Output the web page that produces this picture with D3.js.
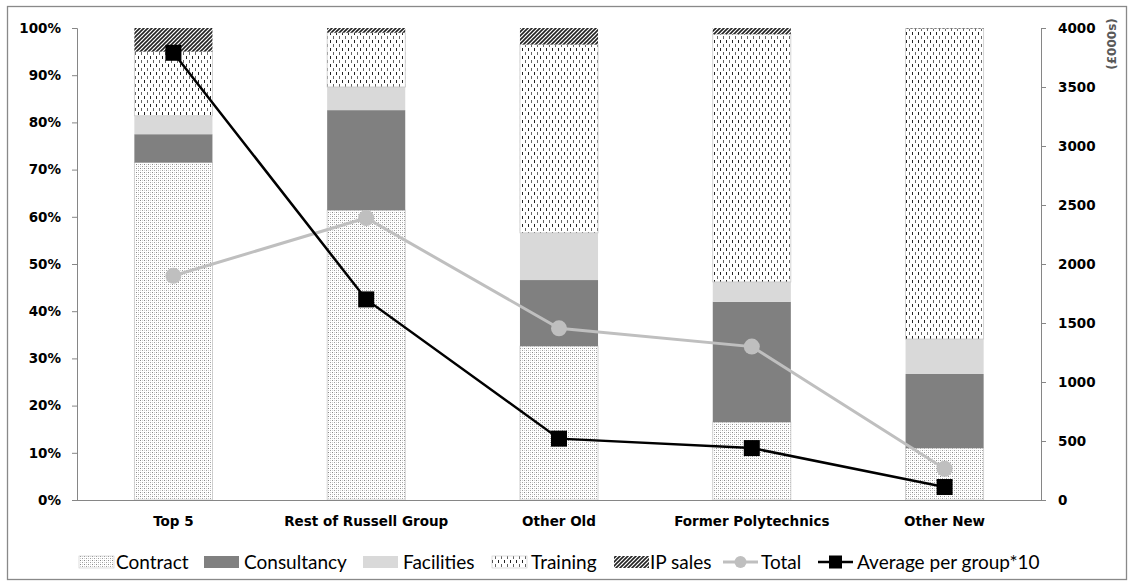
<!DOCTYPE html>
<html><head><meta charset="utf-8">
<script src="https://cdn.jsdelivr.net/npm/d3@7"></script>
<style>body{margin:0;background:#fff}svg{display:block}</style>
</head><body>
<svg id="c" width="1132" height="587"></svg>
<script>
const categories = ["Top 5","Rest of Russell Group","Other Old","Former Polytechnics","Other New"];
const contract    = [71.5, 61.4, 32.6, 16.5, 11.0];
const consultancy = [6.0, 21.2, 14.0, 25.5, 15.7];
const facilities  = [3.9, 4.9, 10.0, 4.2, 7.4];
const training    = [13.6, 11.5, 39.9, 52.5, 65.8];
const ipSales     = [5.0, 1.0, 3.5, 1.3, 0.1];
const total       = [1900, 2390, 1455, 1300, 265];
const avgPerGroup = [3790, 1700, 520, 440, 110];
const leftTicks = [0,10,20,30,40,50,60,70,80,90,100];
const rightTicks = [0,500,1000,1500,2000,2500,3000,3500,4000];

const svg = d3.select("#c");
const defs = svg.append("defs");
const pC = defs.append("pattern").attr("id","pContract").attr("patternUnits","userSpaceOnUse").attr("width",4).attr("height",4);
pC.append("rect").attr("width",4).attr("height",4).attr("fill","#fff");
pC.append("rect").attr("x",0).attr("y",0).attr("width",1).attr("height",1).attr("fill","#8a8a8a");
pC.append("rect").attr("x",2).attr("y",2).attr("width",1).attr("height",1).attr("fill","#a0a0a0");
pC.append("rect").attr("x",2).attr("y",0).attr("width",1).attr("height",1).attr("fill","#d0d0d0");
pC.append("rect").attr("x",0).attr("y",2).attr("width",1).attr("height",1).attr("fill","#d0d0d0");
const pT = defs.append("pattern").attr("id","pTraining").attr("patternUnits","userSpaceOnUse").attr("width",6).attr("height",8);
pT.append("rect").attr("width",6).attr("height",8).attr("fill","#fff");
pT.append("rect").attr("x",0).attr("y",0).attr("width",1).attr("height",3).attr("fill","#222");
pT.append("rect").attr("x",3).attr("y",4).attr("width",1).attr("height",3).attr("fill","#666");
const pI = defs.append("pattern").attr("id","pIP").attr("patternUnits","userSpaceOnUse").attr("width",4).attr("height",4);
pI.append("rect").attr("width",4).attr("height",4).attr("fill","#fff");
pI.append("path").attr("d","M-1,1 L1,-1 M0,4 L4,0 M3,5 L5,3").attr("stroke","#222").attr("stroke-width",1.6);

const series = [
  {name:"Contract", vals:contract, fill:"url(#pContract)"},
  {name:"Consultancy", vals:consultancy, fill:"#808080"},
  {name:"Facilities", vals:facilities, fill:"#d9d9d9"},
  {name:"Training", vals:training, fill:"url(#pTraining)"},
  {name:"IP sales", vals:ipSales, fill:"url(#pIP)"}
];

const L = 77, R = 1041, T = 28, B = 500;
svg.append("rect").attr("x",7.5).attr("y",6.5).attr("width",1119).attr("height",573).attr("fill","none").attr("stroke","#898989").attr("stroke-width",1.3);

const x = d3.scaleBand().domain(categories).range([L,R]).paddingInner(0.595).paddingOuter(0.2975);
const y = d3.scaleLinear().domain([0,100]).range([B,T]);
const y2 = d3.scaleLinear().domain([0,4000]).range([B,T]);

const rows = categories.map((c,i)=>{const o={cat:c}; series.forEach(s=>o[s.name]=s.vals[i]); return o;});
const stack = d3.stack().keys(series.map(s=>s.name))(rows);
stack.forEach((layer,k)=>{
  svg.append("g").selectAll("rect").data(layer).join("rect")
    .attr("x",d=>x(d.data.cat)).attr("width",x.bandwidth())
    .attr("y",d=>y(d[1])).attr("height",d=>y(d[0])-y(d[1]))
    .attr("fill",series[k].fill)
    .attr("stroke", k===0||k===3 ? "#c8c8c8" : "none").attr("stroke-width",0.8);
});

const fontAx = "DejaVu Sans, Verdana, sans-serif";
const gl = svg.append("g").attr("transform",`translate(${L},0)`)
  .call(d3.axisLeft(y).tickValues(leftTicks).tickSize(5).tickPadding(11).tickFormat(d=>d+"%"));
const gr = svg.append("g").attr("transform",`translate(${R},0)`)
  .call(d3.axisRight(y2).tickValues(rightTicks).tickSize(5).tickPadding(12).tickFormat(d=>d));
const gb = svg.append("g").attr("transform",`translate(0,${B})`)
  .call(d3.axisBottom(x).tickSize(0).tickPadding(16));
[gl,gr,gb].forEach(g=>{
  g.select(".domain").attr("stroke","#868686");
  g.selectAll(".tick line").attr("stroke","#868686");
  g.selectAll("text").attr("font-family",fontAx).attr("font-weight","bold").attr("font-size",13.5).attr("fill","#000");
});
gb.select(".domain").attr("d",`M${L},0.5H${R}`);
svg.append("text").attr("transform","translate(1116,44) rotate(-90)").attr("text-anchor","middle")
  .attr("font-family",fontAx).attr("font-weight","bold").attr("font-size",12).attr("fill","#595959").text("(£000s)");

const cx = c => x(c)+x.bandwidth()/2;
const line = d3.line().x((d,i)=>cx(categories[i])).y(d=>y2(d));
svg.append("path").datum(total).attr("d",line).attr("fill","none").attr("stroke","#bfbfbf").attr("stroke-width",3);
svg.append("g").selectAll("circle").data(total).join("circle")
  .attr("cx",(d,i)=>cx(categories[i])).attr("cy",d=>y2(d)).attr("r",8).attr("fill","#bfbfbf");
svg.append("path").datum(avgPerGroup).attr("d",line).attr("fill","none").attr("stroke","#000").attr("stroke-width",2.5);
svg.append("g").selectAll("rect").data(avgPerGroup).join("rect")
  .attr("x",(d,i)=>cx(categories[i])-8).attr("y",d=>y2(d)-8).attr("width",16).attr("height",16).attr("fill","#000");

const fontLg = "Lato, 'Open Sans', sans-serif";
const lg = svg.append("g");
const legendItems = [
  {name:"Contract", type:"box", fill:"url(#pContract)", sx:79, tx:116},
  {name:"Consultancy", type:"box", fill:"#808080", sx:204, tx:244},
  {name:"Facilities", type:"box", fill:"#d9d9d9", sx:363, tx:403},
  {name:"Training", type:"box", fill:"url(#pTraining)", sx:492, tx:531},
  {name:"IP sales", type:"box", fill:"url(#pIP)", sx:614, tx:650},
  {name:"Total", type:"circle", sx:723, tx:761},
  {name:"Average per group*10", type:"square", sx:818, tx:857}
];
const ly = 562;
legendItems.forEach(it=>{
  if(it.type==="box"){
    lg.append("rect").attr("x",it.sx).attr("y",ly-6).attr("width",35).attr("height",12).attr("fill",it.fill)
      .attr("stroke", it.name==="Contract"||it.name==="Training" ? "#c8c8c8":"none").attr("stroke-width",0.6);
  } else if(it.type==="circle"){
    lg.append("line").attr("x1",it.sx).attr("x2",it.sx+35).attr("y1",ly).attr("y2",ly).attr("stroke","#bfbfbf").attr("stroke-width",3);
    lg.append("circle").attr("cx",it.sx+17.5).attr("cy",ly).attr("r",6).attr("fill","#bfbfbf");
  } else {
    lg.append("line").attr("x1",it.sx).attr("x2",it.sx+35).attr("y1",ly).attr("y2",ly).attr("stroke","#000").attr("stroke-width",2.5);
    lg.append("rect").attr("x",it.sx+11).attr("y",ly-6.5).attr("width",13).attr("height",13).attr("fill","#000");
  }
  lg.append("text").attr("x",it.tx).attr("y",ly).attr("dy","0.35em").attr("font-family",fontLg).attr("font-size",19).attr("fill","#000").text(it.name);
});
</script>
</body></html>
